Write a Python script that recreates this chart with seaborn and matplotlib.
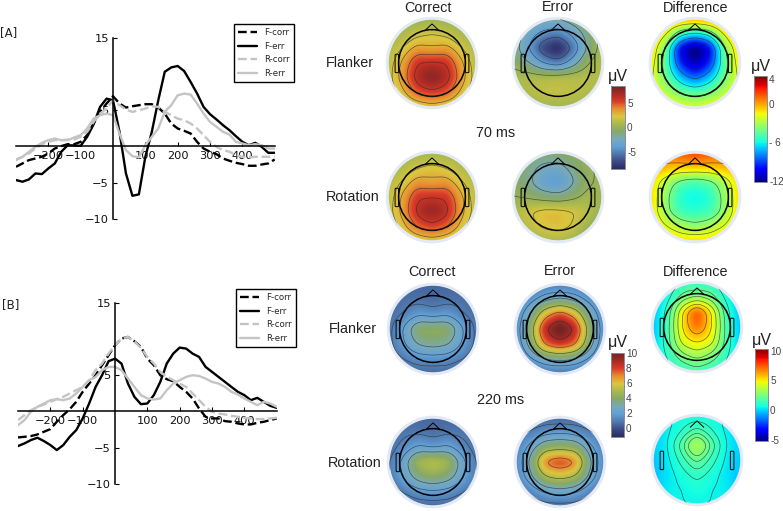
import numpy as np
import pandas as pd
import matplotlib
matplotlib.use('Agg')
import matplotlib.pyplot as plt
from matplotlib.colors import LinearSegmentedColormap, Normalize
from matplotlib.cm import ScalarMappable
from matplotlib.patches import Circle, Polygon, FancyBboxPatch
import seaborn as sns

W, H = 783, 511

# ERP time axis (ms)
times = list(range(-300, 501, 20))

# panel A, voltage in uV
a_f_corr = [-2.8, -2.34, -1.88, -1.65, -1.42, -0.96, -0.28, 0.05, 0.32, 0.32, 0.64, 1.56, 3.17, 4.77, 5.92, 6.93, 5.92, 5.37, 5.55, 5.69, 5.83,
            5.83, 5.37, 4.54, 3.17, 2.48, 2.16, 1.79, 0.64, -0.28, -0.73, -1.06, -1.65, -1.97, -2.25, -2.43, -2.66, -2.66, -2.48, -2.34, -1.79]
a_f_err = [-4.63, -4.86, -4.54, -3.72, -3.81, -3.03, -2.34, -0.73, 0.18, 0.14, 0.09, 1.33, 3.07, 5.46, 6.6, 6.38, 2.02, -3.72, -6.8, -6.6, -1.42,
           2.02, 6.38, 10.3, 10.9, 11.1, 10.4, 8.9, 7.3, 5.46, 4.45, 3.72, 2.94, 2.25, 1.42, 0.64, 0.18, 0.5, -0.05, -0.87, -0.87]
a_r_corr = [-1.79, -1.42, -0.96, -0.28, 0.32, 0.64, 0.87, 0.87, 0.96, 0.96, 1.33, 2.02, 3.39, 4.54, 5.23, 6.38, 5.69, 5.09, 4.77, 5.0, 5.23,
            5.55, 5.46, 4.77, 4.31, 3.85, 3.62, 3.17, 2.48, 1.56, 0.64, -0.05, -0.5, -0.73, -1.19, -1.42, -1.51, -1.42, -1.42, -1.42, -1.33]
a_r_err = [-1.88, -1.42, -0.73, -0.05, 0.5, 0.87, 1.1, 0.87, 0.87, 1.24, 1.56, 2.48, 3.85, 4.31, 4.54, 4.31, 1.79, -0.5, -1.33, -1.51, 0.18,
           1.33, 2.48, 4.77, 5.69, 7.06, 7.29, 7.16, 5.92, 4.54, 3.39, 2.71, 2.02, 1.65, 0.64, 0.41, 0.18, 0.32, 0.18, -0.28, -0.28]

# panel B
b_f_corr = [-3.58, -3.49, -3.39, -3.17, -2.8, -2.43, -1.42, -0.5, 0.32, 1.33, 2.71, 3.85, 5.0, 6.38, 7.75, 9.13, 10.05, 10.28, 9.68, 8.9, 7.29,
            6.38, 5.0, 4.45, 4.17, 3.39, 2.71, 1.79, 0.41, -0.73, -0.96, -0.96, -1.33, -1.42, -1.65, -1.79, -1.79, -1.56, -1.42, -1.19, -0.96]
b_f_err = [-4.77, -4.4, -3.94, -3.62, -4.08, -4.63, -5.32, -4.63, -3.49, -2.57, -0.96, 1.1, 3.39, 5.0, 6.93, 7.29, 6.61, 3.85, 2.02, 1.01, 1.1,
           2.25, 4.08, 6.61, 7.98, 8.81, 8.67, 7.98, 7.52, 6.15, 5.46, 4.77, 4.08, 3.39, 2.71, 2.25, 1.56, 1.88, 1.33, 0.78, 0.5]
b_r_corr = [-1.19, -0.5, 0.18, 0.64, 0.96, 1.33, 1.7, 2.02, 2.48, 2.94, 3.39, 4.31, 5.69, 6.61, 7.98, 9.13, 10.05, 10.28, 9.68, 8.76, 7.52,
            6.61, 5.46, 4.77, 4.31, 3.85, 3.39, 2.48, 1.56, 0.64, -0.05, -0.28, -0.41, -0.6, -0.73, -0.87, -0.96, -1.05, -1.05, -0.96, -0.87]
b_r_err = [-1.88, -1.19, -0.05, 0.64, 1.1, 1.56, 1.7, 1.56, 1.79, 2.48, 3.39, 4.31, 4.77, 5.69, 6.15, 6.15, 5.69, 4.54, 3.39, 2.25, 1.79,
           1.65, 1.79, 2.94, 3.85, 4.31, 4.77, 5.0, 4.9, 4.54, 4.08, 3.85, 3.39, 2.71, 2.34, 1.79, 1.33, 0.87, 1.33, 1.1, 0.64]

x_ticks = [-200, -100, 100, 200, 300, 400]
y_ticks = [-10, -5, 5, 15]

# scalp maps, coarse 7x7 grids in uV, top row = front of the head
a_flanker_correct = [[0.2, 0.2, 0.2, 0.3, 0.2, 0.2, 0.2],
                     [0.4, 0.8, 1.5, 1.9, 1.5, 0.8, 0.4],
                     [0.9, 1.9, 3.2, 2.8, 3.2, 1.9, 0.9],
                     [1.2, 3, 5.6, 5.8, 5.6, 3, 1.2],
                     [1.3, 3.4, 6.3, 7.6, 6.3, 3.4, 1.3],
                     [1, 2.4, 4.6, 5.2, 4.6, 2.4, 1],
                     [0.5, 1, 1.6, 2, 1.6, 1, 0.5]]
a_rotation_correct = [[0.4, 0.4, 0.5, 0.6, 0.5, 0.4, 0.4],
                      [0.6, 1, 1.8, 2.3, 1.8, 1, 0.6],
                      [1, 2, 3.4, 3, 3.4, 2, 1],
                      [1.2, 3, 5.4, 5.5, 5.4, 3, 1.2],
                      [1.3, 3.2, 6, 7.2, 6, 3.2, 1.3],
                      [1, 2.3, 4.4, 5.2, 4.4, 2.3, 1],
                      [0.5, 1, 1.6, 2, 1.6, 1, 0.5]]
a_flanker_error = [[0, -1, -1.5, -1.5, -0.8, 0, 0.5],
                   [-0.5, -2.5, -4, -4.5, -3, -1, 0.5],
                   [-0.8, -3.5, -6.5, -8, -5, -1.5, 0.8],
                   [-0.3, -1.5, -3.5, -4.5, -2.5, 0, 1],
                   [0.8, 1, 1, 1.2, 1.2, 1.2, 1],
                   [0.5, 1, 1.5, 1.5, 1.3, 1, 0.7],
                   [0, 0.3, 0.5, 0.5, 0.5, 0.5, 0.3]]
a_rotation_error = [[0, -0.5, -0.5, -0.5, 0, 0.5, 0.5],
                    [-0.3, -1, -2, -2.2, -1, 0, 0.5],
                    [-0.3, -1.2, -3, -3.8, -1.8, 0, 0.5],
                    [0.3, 0, -0.5, -0.8, -0.2, 0.7, 0.5],
                    [1, 2, 2.6, 2.6, 2.2, 1.5, 0.3],
                    [0.5, 1.5, 2.3, 2.6, 2, 0.5, -0.3],
                    [0, 0.5, 0.8, 1, 0.5, -0.3, -0.5]]
a_flanker_diff = [[0, 0.5, 0.3, 0, 0.5, 1, 1],
                  [0, -1.5, -5, -6, -5, -1.5, 0.5],
                  [-0.5, -4, -10, -12, -10, -4, -0.5],
                  [-1, -4.5, -9, -11, -9, -4.5, -1],
                  [-1.5, -4, -6.5, -8, -6.5, -4, -1.5],
                  [-1.5, -2.5, -4, -4.5, -4, -2.5, -1.5],
                  [-1, -1, -1.5, -2, -1.5, -1, -1]]
a_rotation_diff = [[0.5, 0.5, 1, 1.5, 1, 0.5, 0.5],
                   [0, -0.5, -0.8, -0.8, -0.8, -0.5, 0],
                   [-1, -3, -4.5, -5, -4.5, -3, -1],
                   [-1, -3.5, -5.5, -6, -5.5, -3.5, -1],
                   [-1, -3.5, -5, -5.3, -5, -3.5, -1],
                   [-0.5, -2, -3, -3.5, -3, -2, -0.5],
                   [0, -0.3, -1, -1, -1, -0.3, 0]]
b_flanker_correct = [[0.5, 0.5, 0.5, 0.5, 0.5, 0.5, 0.5],
                     [0.5, 0.7, 0.7, 0.5, 0.7, 0.7, 0.5],
                     [0.6, 1, 1.7, 1.4, 1.7, 1, 0.6],
                     [0.7, 2, 4, 4, 4, 2, 0.7],
                     [0.7, 1.8, 3, 3.3, 3, 1.8, 0.7],
                     [0.5, 1, 1.4, 1.5, 1.4, 1, 0.5],
                     [0.3, 0.3, 0.5, 0.5, 0.5, 0.3, 0.3]]
b_rotation_correct = [[0.5, 0.5, 0.5, 0.5, 0.5, 0.5, 0.5],
                      [0.6, 0.8, 0.8, 0.6, 0.8, 0.8, 0.6],
                      [0.6, 1.2, 2, 1.6, 2, 1.2, 0.6],
                      [0.8, 2.2, 4.5, 5, 4.5, 2.2, 0.8],
                      [0.8, 2, 3.3, 3.8, 3.3, 2, 0.8],
                      [0.5, 1, 1.5, 1.7, 1.5, 1, 0.5],
                      [0.3, 0.3, 0.5, 0.5, 0.5, 0.3, 0.3]]
b_flanker_error = [[0.5, 0.7, 1, 1, 1, 0.7, 0.5],
                   [0.8, 1.5, 2.5, 3, 2.5, 1.5, 0.8],
                   [1, 3, 6, 7.5, 6, 3, 1],
                   [1.2, 4, 8.5, 10, 8.5, 4, 1.2],
                   [1, 3.5, 7, 8, 7, 3.5, 1],
                   [0.6, 1.8, 2.8, 3.2, 2.8, 1.8, 0.6],
                   [0.2, 0.5, 0.8, 0.8, 0.8, 0.5, 0.2]]
b_rotation_error = [[0.5, 0.5, 0.5, 0.5, 0.5, 0.5, 0.5],
                    [0.7, 1, 1.5, 1.7, 1.5, 1, 0.7],
                    [1, 2.2, 3.8, 4, 3.8, 2.2, 1],
                    [1.2, 3, 6.8, 7.5, 6.8, 3, 1.2],
                    [1, 2.5, 4.5, 5, 4.5, 2.5, 1],
                    [0.5, 1.2, 2, 2.3, 2, 1.2, 0.5],
                    [0.2, 0.4, 0.6, 0.6, 0.6, 0.4, 0.2]]
b_flanker_diff = [[-0.3, 0.2, 1, 1, 1, 0.2, -0.3],
                  [-0.3, 0.6, 2.2, 2.8, 2.2, 0.6, -0.3],
                  [-0.3, 1.2, 4.5, 7.2, 4.5, 1.2, -0.3],
                  [-0.3, 1.4, 4.6, 6.5, 4.6, 1.4, -0.3],
                  [-0.2, 1.4, 4, 4.6, 4, 1.4, -0.2],
                  [0, 1, 2.3, 3, 2.3, 1, 0],
                  [0.2, 0.5, 1, 1.4, 1, 0.5, 0.2]]
b_rotation_diff = [[0.2, 0.3, 0.5, 0.5, 0.5, 0.3, 0.2],
                   [0, 0.3, 0.8, 1.4, 0.8, 0.3, 0],
                   [-0.1, 0.4, 1.5, 3.2, 1.5, 0.4, -0.1],
                   [-0.2, 0.3, 1, 1.8, 1, 0.3, -0.2],
                   [-0.3, 0.2, 0.6, 1, 0.6, 0.2, -0.3],
                   [-0.2, 0.3, 0.4, 0.6, 0.4, 0.3, -0.2],
                   [0.2, 0.4, 0.4, 0.4, 0.4, 0.4, 0.2]]

sns.set_theme(style='white')
plt.rcParams['font.family'] = ['Liberation Sans', 'DejaVu Sans']
fig = plt.figure(figsize=(W / 100, H / 100), dpi=100, facecolor='white')

eeg = LinearSegmentedColormap.from_list('eeg', ['#2b2b63', '#3c4a86', '#4f78ad', '#62a0d6', '#78aabb', '#86a868',
                                                '#a9b94e', '#dcc63e', '#e88e30', '#d93a28', '#a82a24', '#702424'])


def px_axes(left, top, right, bottom, **kw):
    return fig.add_axes([left / W, 1 - bottom / H, (right - left) / W, (bottom - top) / H], **kw)


def label(x, y, s, size=10.4, color='#222222', family=None, ha='center'):
    fig.text(x / W, 1 - y / H, s, ha=ha, va='center', fontsize=size, color=color,
             family=family if family else ['Liberation Sans', 'DejaVu Sans'])


def erp_panel(box, f_corr, f_err, r_corr, r_err, legend_xy):
    ax = px_axes(*box)
    df = pd.DataFrame({'time': times, 'F-corr': f_corr, 'F-err': f_err, 'R-corr': r_corr, 'R-err': r_err})
    # black dashed/solid for flanker, grey for rotation
    sns.lineplot(data=df, x='time', y='F-corr', ax=ax, color='black', lw=1.7, linestyle='--', label='F-corr')
    sns.lineplot(data=df, x='time', y='F-err', ax=ax, color='black', lw=1.7, label='F-err')
    sns.lineplot(data=df, x='time', y='R-corr', ax=ax, color='#c4c4c4', lw=1.7, linestyle='--', label='R-corr')
    sns.lineplot(data=df, x='time', y='R-err', ax=ax, color='#c4c4c4', lw=1.7, label='R-err')
    ax.set_xlim(-300, 500)
    ax.set_ylim(-10, 15)
    ax.set_xlabel('')
    ax.set_ylabel('')
    ax.patch.set_alpha(0)
    for s in ['top', 'right']:
        ax.spines[s].set_visible(False)
    for s in ['left', 'bottom']:
        ax.spines[s].set_position('zero')
        ax.spines[s].set_color('black')
        ax.spines[s].set_linewidth(1.1)
    ax.set_xticks(x_ticks)
    ax.set_yticks(y_ticks)
    ax.tick_params(axis='both', direction='in', length=3, width=0.8, color='black',
                   labelsize=8.2, labelcolor='#111111', pad=3)
    ax.tick_params(axis='both', which='both', bottom=True, left=True)
    for t in ax.get_xticklabels() + ax.get_yticklabels():
        t.set_family('DejaVu Sans')
    leg = ax.legend(loc='upper left', bbox_to_anchor=(legend_xy[0] / W, 1 - legend_xy[1] / H),
                    bbox_transform=fig.transFigure, borderaxespad=0, fancybox=False, framealpha=1,
                    edgecolor='black', prop={'family': 'DejaVu Sans', 'size': 6.2}, handlelength=2.2,
                    labelspacing=0.55, borderpad=0.45, handletextpad=0.9)
    leg.get_frame().set_linewidth(1.0)


def smooth_grid(grid, n=91, sigma=4.0):
    g = np.array(grid, dtype=float)
    src = np.linspace(-1, 1, g.shape[0])
    dst = np.linspace(-1, 1, n)
    rows = np.array([np.interp(dst, src, r) for r in g])
    full = np.array([np.interp(dst, src, c) for c in rows.T]).T
    k = np.exp(-0.5 * (np.arange(-15, 16) / sigma) ** 2)
    k = k / k.sum()
    pad = np.pad(full, 15, mode='edge')
    pad = np.apply_along_axis(lambda v: np.convolve(v, k, mode='same'), 0, pad)
    pad = np.apply_along_axis(lambda v: np.convolve(v, k, mode='same'), 1, pad)
    return dst, pad[15:-15, 15:-15]


def topo(cx, cy, grid, cmap, vmin, vmax, levels, head=True, r=44):
    ax = px_axes(cx - r - 3, cy - r - 3, cx + r + 3, cy + r + 3)
    ax.set_xlim(-1.07, 1.07)
    ax.set_ylim(-1.07, 1.07)
    ax.axis('off')
    xs, z = smooth_grid(grid)
    # blur pulls the extremes in, stretch them back to the grid's range
    raw = np.array(grid, dtype=float)
    z = raw.min() + (z - z.min()) * (raw.max() - raw.min()) / (z.max() - z.min())
    clip = Circle((0, 0), 1.0, transform=ax.transData)
    im = ax.imshow(z, extent=(-1, 1, -1, 1), origin='upper', cmap=cmap, vmin=vmin, vmax=vmax,
                   interpolation='bilinear', aspect='equal')
    im.set_clip_path(clip)
    cs = ax.contour(xs, xs, z[::-1], levels=levels, colors='#2a2a2a', linewidths=0.5, alpha=0.7,
                    negative_linestyles='solid')
    cs.set_clip_path(clip)
    ax.add_patch(Circle((0, 0), 1.02, fill=False, ec='#e4eaf4', lw=2.2))
    if head:
        ax.add_patch(Circle((0, 0), 0.76, fill=False, ec='black', lw=1.1))
    ax.add_patch(Polygon([[-0.16, 0.74], [0, 0.89], [0.16, 0.74]], closed=False, fill=False, ec='black', lw=0.7))
    for side in (-1, 1):
        ax.add_patch(FancyBboxPatch((side * 0.8 - 0.02, -0.2), 0.04, 0.38, boxstyle='round,pad=0.02',
                                    fill=False, ec='black', lw=0.7))


def colorbar(box, cmap, vmin, vmax, ticks, ticklabels):
    cax = px_axes(*box)
    cb = fig.colorbar(ScalarMappable(Normalize(vmin, vmax), cmap), cax=cax)
    cb.set_ticks(ticks)
    cb.set_ticklabels(ticklabels)
    cb.ax.tick_params(length=0, labelsize=7.2, labelcolor='#444444', pad=1.5)
    cb.outline.set_edgecolor('#8a8a9a')
    cb.outline.set_linewidth(0.7)


erp_panel((16, 37.7, 274.7, 219), a_f_corr, a_f_err, a_r_corr, a_r_err, (234, 24))
erp_panel((18, 302.7, 276.7, 484), b_f_corr, b_f_err, b_r_corr, b_r_err, (236, 289))

label(0, 33, '[A]', size=8.5, family='DejaVu Sans', ha='left')
label(2, 305, '[B]', size=8.5, family='DejaVu Sans', ha='left')

a_levels = [-6, -4, -2, 0, 2, 3, 4.5, 6]
topo(432, 63, a_flanker_correct, eeg, -8.5, 8.5, a_levels)
topo(432, 197, a_rotation_correct, eeg, -8.5, 8.5, a_levels)
topo(558, 63, a_flanker_error, eeg, -8.5, 8.5, a_levels)
topo(558, 197, a_rotation_error, eeg, -8.5, 8.5, a_levels)
a_diff_levels = [-10, -8, -6, -4, -2, 0]
topo(695, 63, a_flanker_diff, 'jet', -12.2, 4.4, a_diff_levels)
topo(695, 197, a_rotation_diff, 'jet', -12.2, 4.4, a_diff_levels)

b_levels = [1, 2, 3, 5, 7, 9]
topo(433, 329, b_flanker_correct, eeg, -1.2, 10, b_levels)
topo(433, 462, b_rotation_correct, eeg, -1.2, 10, b_levels)
topo(560, 329, b_flanker_error, eeg, -1.2, 10, b_levels)
topo(560, 462, b_rotation_error, eeg, -1.2, 10, b_levels)
b_diff_levels = [1, 2, 3, 4, 5, 6]
topo(697, 327, b_flanker_diff, 'jet', -5.2, 10.3, b_diff_levels)
topo(697, 460, b_rotation_diff, 'jet', -5.2, 10.3, [0.5, 1, 1.5, 2, 2.5], head=False)

colorbar((611, 86, 625, 169), eeg, -8.5, 8.5, [5, 0, -5], ['5', '0', '-5'])
colorbar((754, 76, 767, 182), 'jet', -12.2, 4.4, [4, 0, -6, -12], ['4', '0', '- 6', '-12'])
colorbar((611, 353, 624, 437), eeg, -1.2, 10, [10, 8, 6, 4, 2, 0], ['10', '8', '6', '4', '2', '0'])
colorbar((755, 349, 768, 441), 'jet', -5.2, 10.3, [10, 5, 0, -5], ['10', '5', '0', '-5'])

label(428, 8, 'Correct')
label(558, 7, 'Error')
label(696, 8, 'Difference')
label(350, 63, 'Flanker')
label(353, 197, 'Rotation')
label(496, 133, '70 ms')
label(618, 76, '\u03bcV', size=11.5)
label(761, 66, '\u03bcV', size=11.5)
label(432, 272, 'Correct')
label(560, 271, 'Error')
label(696, 272, 'Difference')
label(353, 329, 'Flanker')
label(355, 463, 'Rotation')
label(501, 400, '220 ms')
label(618, 342, '\u03bcV', size=11.5)
label(762, 340, '\u03bcV', size=11.5)

fig.savefig('out.png', dpi=100)
